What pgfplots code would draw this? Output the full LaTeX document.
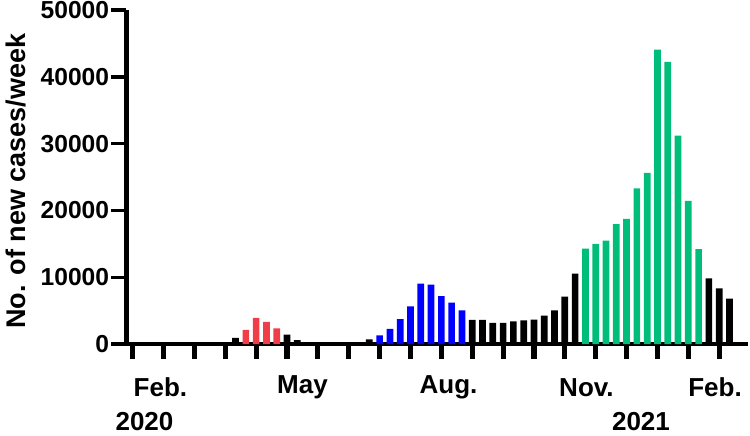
\documentclass[border=0pt]{standalone}
\usepackage{pgfplots}
\pgfplotsset{compat=1.18}
\usepackage{fontspec}
\setmainfont{Liberation Sans}
\definecolor{wavered}{RGB}{240,62,72}
\definecolor{waveblue}{RGB}{0,0,255}
\definecolor{wavegreen}{RGB}{0,190,122}
\begin{document}
\begin{tikzpicture}
\path[use as bounding box] (-63.25pt,-45.5pt) rectangle (311.75pt,172pt);
\begin{axis}[
  at={(0pt,0pt)}, anchor=south west,
  scale only axis, width=310.75pt, height=167pt,
  xmin=-0.6, xmax=59.8, ymin=0, ymax=50000,
  axis lines=left, axis line style={-},
  x axis line style={line width=2.1pt},
  y axis line style={line width=2.4pt},
  tick align=outside,
  major tick length=7.5pt,
  xtick={0,3,...,57}, xticklabels={},
  xtick style={line width=2.6pt, black},
  ytick={0,10000,20000,30000,40000,50000},
  ytick style={line width=1.7pt, black},
  scaled y ticks=false,
  yticklabel style={font=\fontsize{12.3}{14}\selectfont\bfseries, inner sep=1pt,
    /pgf/number format/1000 sep={}, /pgf/number format/assume math mode=true},
  clip=false,
]
  %% weeks without a highlighted wave
  \addplot[ybar, bar width=0.65, bar shift=0pt, fill=black, draw=none] coordinates {
    (10,930) (15,1400) (16,570) (23,680)
    (33,3630) (34,3630) (35,3180) (36,3180) (37,3400) (38,3530) (39,3660)
    (40,4230) (41,5030) (42,7090) (43,10540)
    (56,9830) (57,8330) (58,6790)
  };
  %% first wave
  \addplot[ybar, bar width=0.65, bar shift=0pt, fill=wavered, draw=none] coordinates {
    (11,2130) (12,3930) (13,3330) (14,2330)
  };
  %% second wave
  \addplot[ybar, bar width=0.65, bar shift=0pt, fill=waveblue, draw=none] coordinates {
    (24,1280) (25,2280) (26,3730) (27,5630) (28,9040) (29,8890) (30,7180) (31,6180) (32,5030)
  };
  %% third wave
  \addplot[ybar, bar width=0.65, bar shift=0pt, fill=wavegreen, draw=none] coordinates {
    (44,14290) (45,14990) (46,15490) (47,17940) (48,18740) (49,23300)
    (50,25600) (51,44070) (52,42220) (53,31200) (54,21440) (55,14190)
  };
  %% month and year labels
  \begin{scope}[every node/.style={font=\fontsize{13}{15}\selectfont\bfseries, inner sep=1pt}]
    \node[yshift=-21.75pt] at (axis cs:2.7,0) {Feb.};
    \node[yshift=-21.75pt] at (axis cs:16.5,0) {May};
    \node[yshift=-21.75pt] at (axis cs:30.7,0) {Aug.};
    \node[yshift=-21.75pt] at (axis cs:44.1,0) {Nov.};
    \node[yshift=-21.75pt] at (axis cs:56.6,0) {Feb.};
    \node[yshift=-38.6pt] at (axis cs:1.15,0) {2020};
    \node[yshift=-38.6pt] at (axis cs:49.4,0) {2021};
  \end{scope}
  \node[rotate=90, font=\fontsize{13.5}{15}\selectfont\bfseries]
    at (rel axis cs:-0.178,0.488) {No. of new cases/week};
\end{axis}
\end{tikzpicture}
\end{document}
